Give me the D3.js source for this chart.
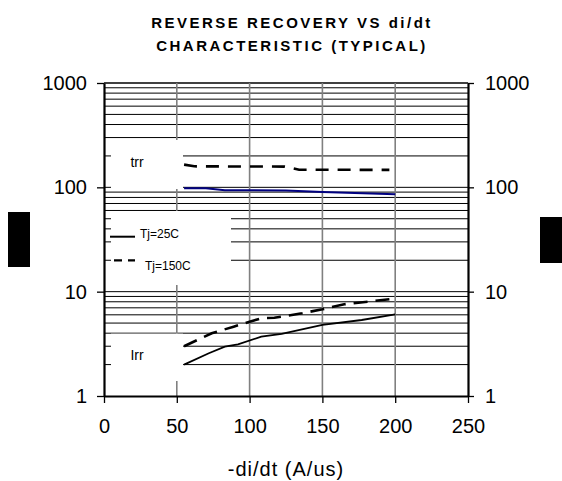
<!DOCTYPE html>
<html>
<head>
<meta charset="utf-8">
<script src="https://cdn.jsdelivr.net/npm/d3@7"></script>
<style>
  html, body { margin: 0; padding: 0; background: #fff; }
  svg { display: block; font-family: "Liberation Sans", Arial, sans-serif; }
</style>
</head>
<body>
<svg id="chart" width="562" height="481"></svg>
<script>
// ---- data ----
const titleLines = ["REVERSE RECOVERY VS di/dt", "CHARACTERISTIC (TYPICAL)"];
const xTicks = [0, 50, 100, 150, 200, 250];
const yTicks = [1, 10, 100, 1000];
const xTitle = "-di/dt (A/us)";

const trr25X  = [55, 70, 83, 125, 150, 200];
const trr25Y  = [98, 98, 94, 93.5, 90, 86];
const trr150X = [55, 62, 124, 134, 196];
const trr150Y = [165, 159, 158, 147.5, 147];
const irr25X  = [55, 72, 83, 92, 108, 122, 150, 177, 200];
const irr25Y  = [2.0, 2.57, 2.97, 3.13, 3.7, 3.93, 4.8, 5.35, 6.05];
const irr150X = [55, 74, 89, 100, 108, 117, 136, 150, 165, 196];
const irr150Y = [3.0, 3.99, 4.62, 5.15, 5.55, 5.63, 6.2, 6.78, 7.57, 8.45];

const legendLabels = ["Tj=25C", "Tj=150C"];
const boxLabels = ["trr", "Irr"];

// ---- layout ----
const svg = d3.select("#chart");
const L = 104, R = 468, T = 83, B = 396;
const x = d3.scaleLinear().domain([0, 250]).range([L, R]);
const y = d3.scaleLog().domain([1, 1000]).range([B, T]);

// title
svg.append("g").selectAll("text").data(titleLines).join("text")
  .attr("x", 292).attr("y", (d, i) => 28 + i * 23)
  .attr("text-anchor", "middle")
  .attr("font-size", 15).attr("font-weight", "bold")
  .attr("letter-spacing", 2.5)
  .text(d => d);

// horizontal grid (log minor)
const hVals = [];
[1, 10, 100].forEach(d => { for (let k = 2; k <= 9; k++) hVals.push(k * d); });
[10, 100, 1000].forEach(v => hVals.push(v));
svg.append("g").selectAll("line").data(hVals).join("line")
  .attr("x1", L).attr("x2", R)
  .attr("y1", d => y(d)).attr("y2", d => y(d))
  .attr("stroke", "#000").attr("stroke-width", d => d === 1000 ? 1.6 : 1);

// vertical grid
svg.append("g").selectAll("line").data([50, 100, 150, 200]).join("line")
  .attr("x1", d => x(d)).attr("x2", d => x(d))
  .attr("y1", T).attr("y2", B)
  .attr("stroke", "#808080").attr("stroke-width", 1.6);

// white label boxes
const boxes = [
  { x0: 111, y0: 140, x1: 183, y1: 189 },
  { x0: 111, y0: 211, x1: 231, y1: 285 },
  { x0: 111, y0: 333.7, x1: 183, y1: 381 }
];
svg.append("g").selectAll("rect").data(boxes).join("rect")
  .attr("x", d => d.x0).attr("y", d => d.y0)
  .attr("width", d => d.x1 - d.x0).attr("height", d => d.y1 - d.y0)
  .attr("fill", "#fff");

// box labels
svg.append("text").attr("x", 137).attr("y", 167).attr("text-anchor", "middle")
  .attr("font-size", 14).text(boxLabels[0]);
svg.append("text").attr("x", 137).attr("y", 360).attr("text-anchor", "middle")
  .attr("font-size", 14).text(boxLabels[1]);

// legend
svg.append("line").attr("x1", 110).attr("x2", 135).attr("y1", 236.7).attr("y2", 236.7)
  .attr("stroke", "#000").attr("stroke-width", 2);
svg.append("text").attr("x", 140).attr("y", 238).attr("font-size", 12).text(legendLabels[0]);
svg.append("line").attr("x1", 114).attr("x2", 135).attr("y1", 260.3).attr("y2", 260.3)
  .attr("stroke", "#000").attr("stroke-width", 2.2).attr("stroke-dasharray", "8,6");
svg.append("text").attr("x", 145).attr("y", 270).attr("font-size", 12).text(legendLabels[1]);

// curves
const line = d3.line().x(d => x(d[0])).y(d => y(d[1]));
const series = [
  { xs: trr25X, ys: trr25Y, color: "#000080", w: 2, dash: null },
  { xs: trr150X, ys: trr150Y, color: "#000", w: 2.6, dash: "13,9" },
  { xs: irr25X, ys: irr25Y, color: "#000", w: 1.8, dash: null },
  { xs: irr150X, ys: irr150Y, color: "#000", w: 2.6, dash: "14,8" }
];
svg.append("g").selectAll("path").data(series).join("path")
  .attr("d", s => line(s.xs.map((v, i) => [v, s.ys[i]])))
  .attr("fill", "none").attr("stroke", s => s.color)
  .attr("stroke-width", s => s.w)
  .attr("stroke-dasharray", s => s.dash);

// axes
const fmt = d3.format("d");
const styleAxis = g => {
  g.selectAll("text").attr("font-size", 20).attr("fill", "#000")
    .attr("font-family", "Liberation Sans, Arial, sans-serif");
  g.selectAll("line").attr("stroke", "#000").attr("stroke-width", 1.3);
  g.select(".domain").attr("stroke", "#000").attr("stroke-width", 2.2);
};
svg.append("g").attr("transform", `translate(${L},0)`)
  .call(d3.axisLeft(y).tickValues(yTicks).tickFormat(fmt).tickSize(7).tickSizeOuter(0).tickPadding(10))
  .call(styleAxis);
svg.append("g").attr("transform", `translate(${R},0)`)
  .call(d3.axisRight(y).tickValues(yTicks).tickFormat(fmt).tickSize(6).tickSizeOuter(0).tickPadding(11))
  .call(styleAxis);
svg.append("g").attr("transform", `translate(0,${B})`)
  .call(d3.axisBottom(x).tickValues(xTicks).tickFormat(fmt).tickSize(7).tickSizeOuter(0).tickPadding(16))
  .call(styleAxis);

// x axis title
svg.append("text").attr("x", 286).attr("y", 476).attr("text-anchor", "middle")
  .attr("font-size", 20).attr("letter-spacing", 1).text(xTitle);

// obscured y-axis titles (rendered as solid blocks in the reference)
svg.append("rect").attr("x", 8).attr("y", 212).attr("width", 22).attr("height", 55).attr("fill", "#000");
svg.append("rect").attr("x", 540).attr("y", 217).attr("width", 22).attr("height", 46).attr("fill", "#000");
</script>
</body>
</html>
